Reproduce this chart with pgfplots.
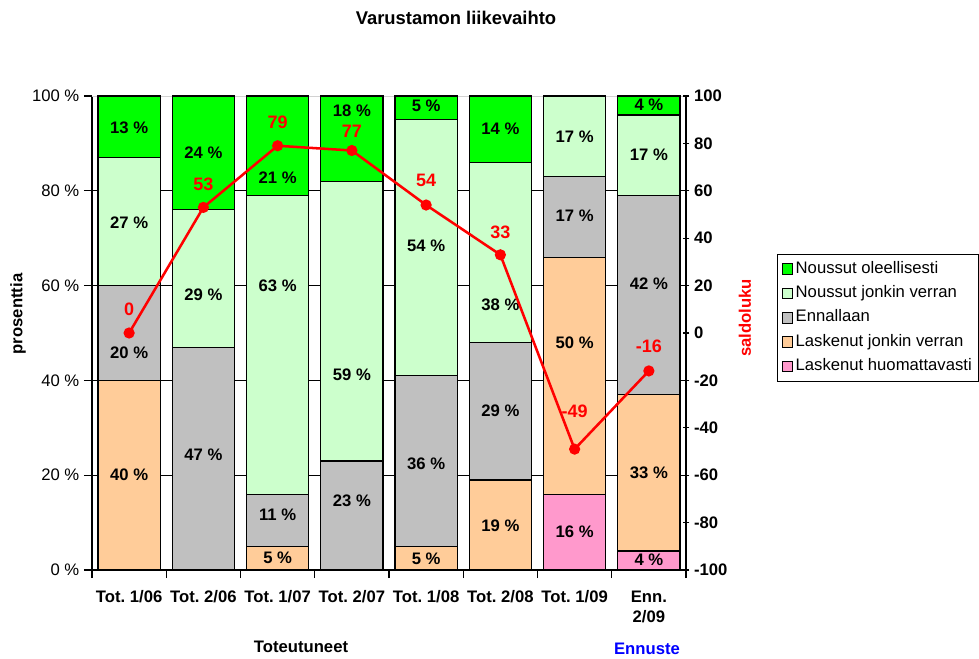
\documentclass[border=0pt]{standalone}
\usepackage{pgfplots}
\pgfplotsset{compat=1.18}
\usepackage{fontspec}
\setmainfont{Liberation Sans}
\frenchspacing
\definecolor{cgreen}{RGB}{0,255,0}
\definecolor{clight}{RGB}{204,255,204}
\definecolor{cgray}{RGB}{192,192,192}
\definecolor{corange}{RGB}{255,204,153}
\definecolor{cpink}{RGB}{255,153,204}
\definecolor{cred}{RGB}{255,0,0}
\definecolor{cblue}{RGB}{0,0,255}
\newcommand\lbl{\fontsize{12.5}{15}\selectfont}

\pgfplotsset{
  frame/.style={
    scale only axis, width=445.5pt, height=355.5pt,
    at={(69pt,66pt)}, anchor=south west,
    xmin=0, xmax=8,
  },
  seg/.style={fill=#1, draw=black, line width=0.9pt, area legend,
    legend image code/.code={\draw[fill=#1,draw=black,line width=0.6pt] (0pt,-4pt) rectangle (8pt,4pt);}},
}

\begin{document}
\begin{tikzpicture}[x=0.75pt,y=0.75pt]
\useasboundingbox (0,0) rectangle (979,658);

% bars (bottom to top)
\begin{axis}[frame,
  ybar stacked, bar width=0.837,
  ymin=0, ymax=100,
  axis lines*=left, axis line style={-, black, line width=0.8pt},
  tick align=outside, major tick length=6pt,
  tick style={black, line width=0.8pt},
  xtick={0,...,8}, xticklabels={},
  extra x ticks={0.5,1.5,...,7.5},
  extra x tick labels={Tot. 1/06,Tot. 2/06,Tot. 1/07,Tot. 2/07,Tot. 1/08,Tot. 2/08,Tot. 1/09,{Enn.\\2/09}},
  extra x tick style={major tick length=0pt, grid=none,
    xticklabel style={font=\lbl\bfseries, align=center, yshift=-12pt}},
  ytick={0,20,...,80}, extra y ticks={100},
  extra y tick style={grid=major, major grid style={gray!35, line width=0.6pt}},
  ymajorgrids, major grid style={black, line width=0.6pt},
  yticklabel={\pgfmathprintnumber{\tick}~\%},
  yticklabel style={font=\lbl},
  /pgf/number format/assume math mode=true,
  reverse legend,
  legend style={at={(1.1535,0.6667)}, anchor=north west, draw=black,
    line width=0.6pt, font=\lbl, row sep=0pt,
    nodes={text height=9pt, text depth=2.6pt, inner ysep=3.3pt},
    cells={anchor=west}},
]
\addplot[seg=cpink] coordinates {(0.5,0) (1.5,0) (2.5,0) (3.5,0) (4.5,0) (5.5,0) (6.5,16) (7.5,4)};
\addlegendentry{Laskenut huomattavasti}
\addplot[seg=corange] coordinates {(0.5,40) (1.5,0) (2.5,5) (3.5,0) (4.5,5) (5.5,19) (6.5,50) (7.5,33)};
\addlegendentry{Laskenut jonkin verran}
\addplot[seg=cgray] coordinates {(0.5,20) (1.5,47) (2.5,11) (3.5,23) (4.5,36) (5.5,29) (6.5,17) (7.5,42)};
\addlegendentry{Ennallaan}
\addplot[seg=clight] coordinates {(0.5,27) (1.5,29) (2.5,63) (3.5,59) (4.5,54) (5.5,38) (6.5,17) (7.5,17)};
\addlegendentry{Noussut jonkin verran}
\addplot[seg=cgreen] coordinates {(0.5,13) (1.5,24) (2.5,21) (3.5,18) (4.5,5) (5.5,14) (6.5,0) (7.5,4)};
\addlegendentry{Noussut oleellisesti}
\end{axis}

% percentage labels, placed as in the reference
\begin{axis}[frame, hide axis, ymin=0, ymax=100, clip=false]
\addplot[draw=none, no markers, nodes near coords, point meta=explicit symbolic,
  every node near coord/.style={anchor=center, font=\lbl\bfseries, text=black}]
  coordinates {
  (0.5,93.3) [13 \%] (0.5,73.3) [27 \%] (0.5,45.8) [20 \%] (0.5,20.1) [40 \%]
  (1.5,88.1) [24 \%] (1.5,58.1) [29 \%] (1.5,24.3) [47 \%]
  (2.5,82.8) [21 \%] (2.5,59.9) [63 \%] (2.5,11.6) [11 \%] (2.5,2.5) [5 \%]
  (3.5,96.9) [18 \%] (3.5,41.2) [59 \%] (3.5,14.7) [23 \%]
  (4.5,97.9) [5 \%] (4.5,68.4) [54 \%] (4.5,22.4) [36 \%] (4.5,2.3) [5 \%]
  (5.5,93.0) [14 \%] (5.5,56.0) [38 \%] (5.5,33.7) [29 \%] (5.5,9.4) [19 \%]
  (6.5,91.5) [17 \%] (6.5,74.7) [17 \%] (6.5,47.9) [50 \%] (6.5,8.0) [16 \%]
  (7.5,98.1) [4 \%] (7.5,87.5) [17 \%] (7.5,60.3) [42 \%] (7.5,20.6) [33 \%] (7.5,2.1) [4 \%]
  };
\end{axis}

% saldoluku on the right axis
\begin{axis}[frame, ymin=-100, ymax=100, clip=false,
  axis y line*=right, axis x line=none,
  axis line style={-, black, line width=0.8pt},
  ytick={-100,-80,...,100}, tick align=center, major tick length=5pt,
  tick style={black, line width=0.8pt},
  yticklabel style={font=\lbl\bfseries},
  /pgf/number format/assume math mode=true,
]
\addplot[cred, line width=1.9pt, mark=*, mark size=3.2pt]
  coordinates {(0.5,0) (1.5,53) (2.5,79) (3.5,77) (4.5,54) (5.5,33) (6.5,-49) (7.5,-16)};
\addplot[draw=none, no markers, nodes near coords, point meta=explicit symbolic,
  every node near coord/.style={anchor=center, font=\fontsize{13.5}{16}\selectfont\bfseries, text=cred}]
  coordinates {(0.5,9.9) [0] (1.5,62.8) [53] (2.5,89.1) [79] (3.5,84.9) [77]
    (4.5,64.2) [54] (5.5,42.5) [33] (6.5,-33.1) [-49] (7.5,-5.6) [-16]};
\end{axis}

\node[font=\fontsize{13.8}{16}\selectfont\bfseries] at (456,640) {Varustamon liikevaihto};
\node[font=\lbl\bfseries, rotate=90] at (18,344) {prosenttia};
\node[font=\lbl\bfseries, rotate=90, text=cred] at (745,340) {saldoluku};
\node[font=\lbl\bfseries] at (301,11) {Toteutuneet};
\node[font=\lbl\bfseries, text=cblue] at (647,9) {Ennuste};
\end{tikzpicture}
\end{document}
